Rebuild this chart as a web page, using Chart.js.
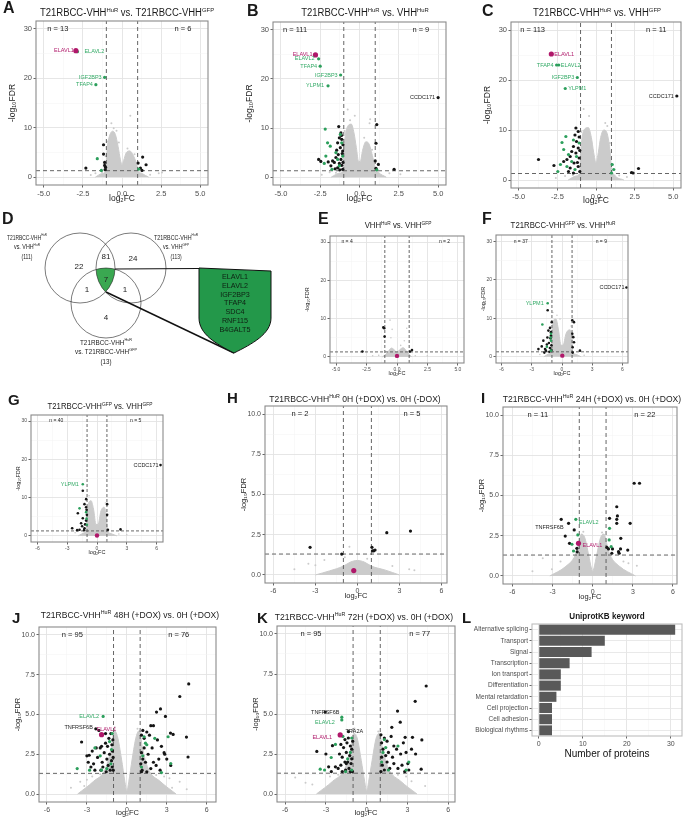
<!DOCTYPE html>
<html>
<head>
<meta charset="utf-8">
<script src="https://cdn.jsdelivr.net/npm/chart.js@4.4.1/dist/chart.umd.min.js"></script>
<style>
body { margin: 0; background: #fff; font-family: "Liberation Sans", Arial, sans-serif; }
#page { position: relative; width: 685px; height: 817px; overflow: hidden; }
canvas { position: absolute; }
.txt { position: absolute; white-space: nowrap; line-height: 1; color: #1a1a1a; }
.ttl { transform: translate(-50%, -50%) scaleX(0.95); }
.ttl sup { font-size: 62%; vertical-align: 0.6em; line-height: 0; }
.let { font-weight: bold; }
</style>
</head>
<body>
<div id="page"></div>
<script>
// ---- shared cut-offs and ticks
const fcCut = [-1, 1];
const fdrCut = 1.3;
const ticksFC5 = [-5, -2.5, 0, 2.5, 5];
const ticksFC6 = [-6, -3, 0, 3, 6];
const ticksFDR30 = [0, 10, 20, 30];
const ticksFDR10 = [0, 2.5, 5, 7.5, 10];

// ---- A: T21RBCC-VHH HuR vs T21RBCC-VHH GFP  (cloud = upper edge of the grey non-significant proteins)
const aCloud = [[-1.7,0],[-1.3,0.7],[-1.05,1.3],[-1.0,3.5],[-0.92,6.5],[-0.78,8.5],[-0.6,9.3],[-0.42,8.6],[-0.25,6.2],[-0.1,3.5],[0,2.5],[0.1,3.3],[0.28,5],[0.5,5.3],[0.72,4.4],[0.92,2.8],[1.05,1.3],[1.3,0.7],[1.7,0]];
const aGray = [[0.53,12.4],[-0.68,10.9],[-0.53,9.9],[-0.35,9.4],[2.35,0.8],[2.56,0.95],[-1.28,1.0],[-1.7,0.8],[1.8,0.5],[-2.0,0.4],[-0.9,7.2],[-0.2,7.0],[0.35,5.8],[0.8,4.6],[-1.05,4.2]];
const aBlack = [[-1.18,6.55],[-1.18,4.66],[-1.11,2.97],[-1.11,2.36],[-2.31,1.82],[-1.05,2.0],[-1.08,1.5],[1.32,4.05],[1.54,2.5],[1.03,2.84],[1.18,1.82],[1.28,1.35]];
const aGreen = [[-2.85,25.4],[-1.11,20.2],[-1.67,18.7],[-1.58,3.72],[-1.32,1.35],[1.07,1.62]];
const aMag = [[-2.95,25.6]];
const aGenes = [['ELAVL1',-2.95,25.6,'m'],['ELAVL2',-2.85,25.4,'g'],['IGF2BP3',-1.11,20.2,'g'],['TFAP4',-1.67,18.7,'g']];
const aN = ['n = 13', 'n = 6'];

// ---- B: T21RBCC-VHH HuR vs VHH HuR
const bCloud = [[-1.8,0],[-1.3,0.8],[-1.05,1.5],[-1.0,5],[-0.9,8.5],[-0.72,10.5],[-0.52,10.8],[-0.35,9],[-0.2,6],[-0.06,3.2],[0.05,3.2],[0.2,5.5],[0.4,7.2],[0.6,6.8],[0.85,4],[1.0,2],[1.2,1.0],[1.7,0]];
const bGray = [[-0.75,13.8],[-0.3,12.5],[0.64,11],[0.68,11.8],[-0.6,11.6],[-1.9,1.0],[1.9,0.8],[-2.4,0.5],[2.6,0.6],[-0.95,9.4],[0.3,8.0],[0.8,5.6],[-1.5,0.9]];
const bBlack = [[5.0,16.2],[-1.32,10.3],[-1.18,9.0],[-1.28,8.0],[-1.13,7.7],[-1.39,7.0],[-1.22,6.0],[-1.07,5.3],[-1.35,4.6],[-1.5,4.0],[-1.18,3.6],[-1.6,3.0],[-1.82,2.3],[-1.39,1.9],[-1.07,1.6],[-1.71,3.3],[-1.99,3.1],[-1.28,2.8],[-1.13,2.4],[-2.46,3.2],[-2.6,3.6],[-1.05,6.6],[-1.1,4.8],[-1.45,5.5],[-1.25,1.5],[-1.55,1.7],[-1.05,3.0],[-1.15,8.5],[1.1,10.7],[1.05,6.9],[1.0,3.3],[1.2,2.6],[2.2,1.6],[1.05,1.8]];
const bGreen = [[-2.6,24.1],[-2.5,22.6],[-1.2,20.8],[-2.0,18.6],[-2.18,9.8],[-2.03,7.0],[-1.86,6.3],[-2.14,4.3],[-2.24,2.8],[-1.75,1.6],[-1.5,5.0],[-1.39,3.6],[-1.28,2.3],[-1.13,7.0],[-1.07,4.3],[-1.22,8.7],[1.1,1.5]];
const bMag = [[-2.8,24.9]];
const bGenes = [['ELAVL1',-2.8,24.9,'m'],['ELAVL2',-2.6,24.1,'g'],['TFAP4',-2.5,22.6,'g'],['IGF2BP3',-1.2,20.8,'g'],['YLPM1',-2.0,18.6,'g'],['CCDC171',5.0,16.2,'k']];
const bN = ['n = 111', 'n = 9'];

// ---- C: T21RBCC-VHH HuR vs VHH GFP
const cCloud = [[-1.8,0],[-1.3,0.8],[-1.05,1.5],[-1.0,5],[-0.9,8.5],[-0.7,10.3],[-0.5,10.5],[-0.3,8.5],[-0.15,5.5],[0,3.5],[0.15,5.5],[0.3,8.5],[0.5,10],[0.7,9.5],[0.9,6],[1.0,2.5],[1.2,1.0],[1.8,0]];
const cGray = [[-0.8,14.2],[-0.45,12.8],[0.73,10.8],[0.6,11.4],[-2.0,0.8],[2.0,0.6],[-2.6,0.4],[-0.95,9.6],[0.9,7.4],[-1.5,1.0],[1.5,0.9]];
const cBlack = [[5.23,16.8],[-1.3,10.4],[-1.15,9.7],[-1.36,9.0],[-1.09,8.6],[-1.26,7.7],[-1.46,6.7],[-1.15,6.4],[-1.57,5.7],[-1.3,5.4],[-1.67,4.7],[-1.09,4.4],[-1.88,4.1],[-1.42,3.4],[-2.09,3.7],[-2.72,2.9],[-1.67,2.4],[-1.15,2.7],[-1.05,1.7],[-1.46,1.4],[-3.72,4.1],[-1.78,1.7],[-1.05,5.9],[-1.2,3.5],[2.3,1.5],[2.4,1.4],[2.75,2.3]];
const cGreen = [[-2.41,23.0],[-2.55,23.0],[-1.21,20.5],[-1.99,18.3],[-1.95,8.7],[-2.2,7.5],[-1.46,8.0],[-2.09,6.1],[-1.78,5.1],[-2.3,3.1],[-2.47,1.7],[-1.57,3.7],[-1.88,2.7],[-1.36,2.1],[-1.09,7.4],[-1.26,4.7],[1.05,3.1],[1.15,2.1],[1.0,1.4]];
const cMag = [[-2.89,25.2]];
const cGenes = [['ELAVL1',-2.89,25.2,'m'],['ELAVL2',-2.41,23.0,'g'],['TFAP4',-2.55,23.0,'g'],['IGF2BP3',-1.21,20.5,'g'],['YLPM1',-1.99,18.3,'g'],['CCDC171',5.23,16.8,'k']];
const cN = ['n = 113', 'n = 11'];

// ---- E: VHH HuR vs VHH GFP
const eCloud = [[-1.2,0],[-0.8,1.0],[-0.45,2.3],[-0.15,1.6],[0,1.2],[0.2,1.8],[0.5,2.4],[0.85,1.2],[1.2,0]];
const eGray = [[-0.57,9.6],[-0.4,7.2],[0.8,7.5],[-0.5,5.0],[0.6,4.2],[2.49,0.26],[-2.0,0.3],[1.5,0.3],[-1.5,0.4],[0.3,3.0]];
const eBlack = [[-1.12,7.7],[-1.05,7.5],[-1.02,5.3],[-2.84,1.4],[1.07,1.4],[1.23,1.8]];
const eGreen = [];
const eMag = [[0,0.26]];
const eGenes = [];
const eN = ['n = 4', 'n = 2'];

// ---- F: T21RBCC-VHH GFP vs VHH HuR
const fCloud = [[-1.8,0],[-1.3,0.8],[-1.1,1.5],[-1.0,6],[-0.85,9.5],[-0.6,9.8],[-0.35,7],[-0.1,3],[0.1,3],[0.4,6],[0.75,7],[1.0,5],[1.05,1.5],[1.3,0.7],[1.9,0]];
const fGray = [[-0.9,11.5],[-0.5,10.8],[0.9,8],[-2.2,0.6],[2.2,0.4],[-0.2,9.8]];
const fBlack = [[6.4,18.0],[-1.42,12.1],[-1.02,9.0],[-1.35,6.8],[-1.19,7.5],[-1.85,4.2],[-2.01,2.7],[-2.34,2.0],[-1.68,2.0],[-1.1,5.5],[-1.15,4.8],[-1.3,3.6],[-1.05,3.0],[-1.5,3.2],[-1.2,2.3],[-1.6,1.6],[-1.05,1.8],[-1.25,1.3],[-1.1,6.4],[-1.45,5.0],[-1.75,1.1],[1.02,9.5],[1.19,9.0],[1.02,6.0],[1.12,5.1],[1.19,3.8],[1.06,2.5],[1.78,1.6],[1.06,1.1]];
const fGreen = [[-1.42,13.9],[-1.95,8.4],[-1.09,6.0],[-1.09,4.2],[-1.09,1.6],[-1.5,2.6],[-1.12,5.0]];
const fMag = [[0.03,0.3]];
const fGenes = [['YLPM1',-1.42,13.9,'g'],['CCDC171',6.4,18.0,'k']];
const fN = ['n = 37', 'n = 9'];

// ---- G: T21RBCC-VHH GFP vs VHH GFP
const gCloud = [[-1.9,0],[-1.3,0.8],[-1.1,1.5],[-1.0,5.5],[-0.85,8.5],[-0.6,9.2],[-0.35,7],[-0.1,3],[0.1,3],[0.4,6.5],[0.7,7.5],[0.95,5],[1.05,1.5],[1.3,0.7],[2.0,0]];
const gGray = [[-0.8,10.5],[0.85,8.6],[-2.2,0.8],[2.2,0.5],[3.0,0.3]];
const gBlack = [[6.4,18.5],[-1.09,9.6],[-1.43,11.8],[-1.26,8.3],[-1.93,5.9],[-1.43,4.6],[-1.02,5.5],[-1.6,3.3],[-2.5,2.0],[-1.76,1.6],[-1.26,2.0],[-1.1,4.0],[-1.2,3.0],[-1.05,6.8],[-1.3,1.5],[-2.0,1.5],[-1.5,2.5],[-1.1,7.5],[1.02,8.3],[1.02,5.5],[2.37,1.7],[1.1,1.6]];
const gGreen = [[-1.43,13.5],[-1.76,7.2],[-1.02,2.9],[-1.05,4.5],[-1.1,6.2]];
const gMag = [[0,0.1]];
const gGenes = [['YLPM1',-1.43,13.5,'g'],['CCDC171',6.4,18.5,'k']];
const gN = ['n = 40', 'n = 5'];

// ---- H: 0H (+DOX) vs 0H (-DOX)
const hCloud = [[-3.0,0],[-2.0,0.25],[-1.0,0.55],[-0.5,0.8],[0,0.9],[0.5,0.8],[1.0,0.55],[2.0,0.3],[3.0,0]];
const hGray = [[-0.57,1.76],[-3.5,0.7],[-4.5,0.35],[3.7,0.35],[4.07,0.3],[-2.36,0.93],[-0.9,1.1],[0.7,1.0],[-3.0,0.6],[2.5,0.55]];
const hBlack = [[-3.38,1.72],[-1.12,1.3],[1.04,1.72],[1.08,1.5],[1.17,1.5],[1.26,1.55],[2.1,2.63],[3.79,2.73]];
const hGreen = [];
const hMag = [[-0.26,0.27]];
const hGenes = [];
const hN = ['n = 2', 'n = 5'];

// ---- I: 24H (+DOX) vs 0H (+DOX)
const iCloud = [[-3.2,0],[-2.0,0.6],[-1.3,1.3],[-1.05,2.0],[-0.85,2.6],[-0.6,2.4],[-0.3,1.3],[-0.1,0.5],[0,0.3],[0.1,0.5],[0.3,1.3],[0.6,2.4],[0.85,2.6],[1.05,2.0],[1.3,1.3],[2.0,0.6],[3.2,0]];
const iGray = [[-3.73,1.1],[-3.05,0.41],[2.67,0.79],[3.3,0.64],[-4.5,0.3],[-0.7,2.75],[0.7,2.7],[-2.4,0.9],[2.3,0.9]];
const iBlack = [[-1.8,3.27],[-2.35,3.52],[-2.05,2.48],[-1.38,2.86],[-1.73,2.03],[-1.18,1.72],[-1.16,1.5],[3.1,5.76],[3.5,5.76],[1.8,4.3],[1.85,3.73],[1.8,3.52],[1.8,3.27],[1.26,3.58],[2.8,3.27],[2.1,2.34],[1.06,1.78],[1.18,1.68],[1.48,1.68],[1.93,1.51],[2.08,1.68],[1.98,1.41],[1.43,1.41],[2.62,1.61]];
const iGreen = [[-1.26,3.52],[-1.55,1.97],[-1.43,1.55],[-1.11,2.55],[1.26,2.96],[1.23,2.24],[1.38,1.82]];
const iMag = [[-1.06,2.03]];
const iGenes = [['TNFRSF6B',-1.8,3.27,'k'],['ELAVL2',-1.26,3.52,'g'],['ELAVL1',-1.06,2.03,'m']];
const iN = ['n = 11', 'n = 22'];

// ---- J: 48H (+DOX) vs 0H (+DOX)
const jCloud = [[-3.7,0],[-2.5,0.8],[-1.6,1.6],[-1.15,3.0],[-0.95,4.0],[-0.7,3.6],[-0.4,2.2],[-0.15,0.8],[0,0.2],[0.15,0.8],[0.4,2.2],[0.7,3.6],[0.95,4.0],[1.15,3.0],[1.6,1.6],[2.5,0.8],[3.7,0]];
const jGray = [[-3.5,0.77],[3.97,0.77],[-3.0,0.9],[-4.2,0.4],[4.5,0.3],[3.2,1.0],[-0.9,4.2],[0.8,4.1],[-2.6,1.1],[2.8,1.1],[-2.0,1.25],[2.2,1.2],[-3.2,0.5],[3.4,0.4]];
const jBlack = [[-2.33,4.1],[-3.4,3.27],[-2.83,2.44],[-2.9,2.0],[-2.7,1.7],[-2.5,1.9],[-2.3,2.9],[-2.2,2.3],[-2.0,2.9],[-1.95,1.5],[-1.85,2.0],[-1.8,1.7],[-1.7,2.6],[-1.6,3.2],[-1.55,1.4],[-1.5,2.2],[-1.45,3.0],[-1.4,1.8],[-1.35,3.5],[-1.3,2.5],[-1.25,1.5],[-1.2,3.8],[-1.15,2.1],[-1.12,3.1],[-1.1,1.7],[-1.08,2.7],[-1.05,3.4],[-1.03,2.3],[-1.02,1.5],[-1.6,3.8],[-2.1,4.0],[-2.6,2.7],[-3.0,2.4],[-2.4,1.5],[-1.9,3.0],
  [4.65,6.92],[3.98,6.13],[2.53,5.35],[2.23,5.15],[2.9,4.88],[4.48,3.58],[4.6,2.33],[3.28,3.83],[3.48,3.75],[1.2,4.0],[1.1,3.7],[1.3,3.5],[1.5,3.9],[1.8,4.3],[2.0,4.3],[1.7,3.7],[2.3,3.4],[2.6,3.0],[1.3,2.9],[1.1,2.6],[1.2,2.2],[1.4,2.0],[1.05,1.9],[1.15,1.5],[1.5,1.4],[1.8,1.6],[2.0,2.0],[2.2,1.8],[2.5,1.5],[2.8,2.6],[2.85,2.5],[3.0,2.2],[1.6,2.5],[1.9,2.9],[3.3,1.8],[1.1,1.4],[2.4,2.2]];
const jGreen = [[-1.78,4.88],[-3.73,1.6],[-2.4,2.9],[-2.0,2.4],[-1.9,1.5],[-1.3,3.3],[-1.15,2.8],[-1.1,3.8],[-1.2,1.9],[-1.5,1.6],[-2.8,1.5],[3.3,1.92],[2.6,1.35],[1.3,3.6],[1.4,3.2],[2.1,3.5],[1.2,2.4],[1.5,3.1],[1.1,1.7],[3.1,3.6]];
const jMag = [[-1.9,3.73]];
const jGenes = [['ELAVL2',-1.78,4.88,'g'],['TNFRSF6B',-2.33,4.1,'k'],['ELAVL1',-1.9,3.73,'m']];
const jN = ['n = 95', 'n = 76'];

// ---- K: 72H (+DOX) vs 0H (+DOX)
const kCloud = [[-3.7,0],[-2.5,0.8],[-1.6,1.6],[-1.15,2.9],[-0.95,3.8],[-0.7,3.5],[-0.4,2.1],[-0.15,0.8],[0,0.2],[0.15,0.8],[0.4,2.1],[0.7,3.5],[0.95,3.8],[1.15,2.9],[1.6,1.6],[2.5,0.8],[3.7,0]];
const kGray = [[-5.26,1.03],[3.3,0.8],[4.3,0.5],[-4.0,0.6],[-0.9,4.1],[0.85,3.9],[-4.5,0.7],[-2.7,1.1],[2.9,1.1],[-2.1,1.2],[2.3,1.2]];
const kBlack = [[-3.05,5.12],[-1.34,3.9],[-3.67,2.66],[-3.0,2.5],[-2.52,3.02],[-2.6,1.4],[-2.3,1.7],[-2.1,1.6],[-1.9,1.8],[-1.8,2.3],[-1.7,2.9],[-1.6,3.4],[-1.55,1.5],[-1.5,2.6],[-1.45,3.2],[-1.4,2.0],[-1.35,3.5],[-1.3,1.6],[-1.25,2.4],[-1.2,3.0],[-1.15,1.9],[-1.1,2.8],[-1.05,1.4],[-1.03,3.3],[-1.6,2.0],[-1.8,1.4],[-2.0,2.5],[-1.2,1.4],[-1.9,3.1],[-2.8,1.7],[-1.1,2.2],[-1.5,1.9],
  [4.38,6.75],[3.57,5.79],[2.27,5.18],[2.47,4.49],[1.85,4.17],[3.37,3.54],[4.06,3.38],[2.83,3.54],[4.01,1.55],[3.03,1.9],[1.05,3.7],[1.1,3.2],[1.2,2.8],[1.3,3.5],[1.5,3.3],[1.6,2.6],[1.8,3.6],[2.0,3.0],[2.2,2.8],[2.5,2.5],[2.9,2.6],[3.3,2.8],[1.1,2.3],[1.15,1.8],[1.3,1.5],[1.5,2.0],[1.7,1.6],[2.0,1.9],[2.3,1.6],[2.6,1.8],[2.8,1.4],[3.1,1.5],[1.05,1.4],[1.4,2.4],[1.9,2.3],[2.7,3.2],[3.6,2.5]];
const kGreen = [[-1.83,4.8],[-1.83,4.63],[-3.42,1.55],[-2.61,2.28],[-2.3,3.1],[-1.75,3.6],[-1.4,2.2],[-1.1,3.5],[-1.1,1.5],[-1.55,1.4],[-1.2,2.6],[-3.1,1.5],[1.3,3.4],[1.4,2.9],[1.1,2.0],[1.6,1.5],[2.3,3.0],[3.1,2.0],[1.2,2.6],[2.9,1.5]];
const kMag = [[-1.95,3.69]];
const kGenes = [['TNFRSF6B',-3.05,5.12,'k'],['ELAVL2',-1.83,4.63,'g'],['ELAVL1',-1.95,3.69,'m'],['TRA2A',-1.34,3.9,'k']];
const kN = ['n = 95', 'n = 77'];

// ---- L: UniprotKB keywords
const lKeywords = ['Alternative splicing','Transport','Signal','Transcription','Ion transport','Differentiation','Mental retardation','Cell projection','Cell adhesion','Biological rhythms'];
const lCounts = [31, 15, 12, 7, 5, 5, 4, 3, 3, 3];
const lTicks = [0, 10, 20, 30];

// ---- D: Venn
const vennSets = [['T21RBCC-VHH', 'HuR', 'vs. VHH', 'HuR', '(111)'], ['T21RBCC-VHH', 'HuR', 'vs. VHH', 'GFP', '(113)'], ['T21RBCC-VHH', 'HuR', 'vs. T21RBCC-VHH', 'GFP', '(13)']];
const vennCounts = [22, 81, 24, 7, 1, 1, 4];
const coreGenes = ['ELAVL1', 'ELAVL2', 'IGF2BP3', 'TFAP4', 'SDC4', 'RNF115', 'B4GALT5'];


const page = document.getElementById('page');
const GRAY = '#cbcbcb', BLACK = '#151515', GREEN = '#2c9f5c', MAG = '#b0186a';
const labelColor = { m: '#b0186a', g: '#33aa66', k: '#222' };
Chart.defaults.font.family = '"Liberation Sans", Arial, sans-serif';
Chart.defaults.color = '#4d4d4d';

function mkCanvas(x, y, w, h) {
    const cv = document.createElement('canvas');
    cv.width = w; cv.height = h;
    cv.style.cssText = 'left:' + x + 'px;top:' + y + 'px;width:' + w + 'px;height:' + h + 'px';
    page.appendChild(cv);
    return cv;
}

function addText(html, x, y, size, cls) {
    const d = document.createElement('div');
    d.className = 'txt ' + (cls || '');
    d.style.left = x + 'px';
    d.style.top = y + 'px';
    d.style.fontSize = size + 'px';
    d.innerHTML = html;
    page.appendChild(d);
}

function withMinors(major, range) {
    const all = major.slice();
    const step = major[1] - major[0];
    for (let i = 0; i < major.length - 1; i++) all.push((major[i] + major[i + 1]) / 2);
    if (major[0] - step / 2 >= range[0]) all.push(major[0] - step / 2);
    if (major[major.length - 1] + step / 2 <= range[1]) all.push(major[major.length - 1] + step / 2);
    return all.sort((a, b) => a - b);
}

function linAxis(major, range, title, fmt, fixSize, isX, fs) {
    const all = withMinors(major, range);
    const isMaj = ctx => ctx.tick && major.includes(ctx.tick.value);
    return {
        type: 'linear', min: range[0], max: range[1],
        afterBuildTicks: s => { s.ticks = all.map(v => ({ value: v })); },
        afterFit: s => { if (isX) s.height = fixSize; else s.width = fixSize; },
        ticks: { autoSkip: false, maxRotation: 0, padding: 1.5, color: '#4d4d4d', font: { size: fs.tick },
                 callback: v => major.includes(v) ? fmt(v) : '' },
        grid: { color: ctx => isMaj(ctx) ? '#e3e3e3' : '#f2f2f2', lineWidth: ctx => isMaj(ctx) ? 0.9 : 0.5,
                tickLength: 2.5, tickColor: ctx => isMaj(ctx) ? '#555' : 'rgba(0,0,0,0)' },
        border: { display: false },
        title: { display: !!title, text: title, color: '#222', font: { size: fs.title }, padding: { top: 0, bottom: 0 } }
    };
}

// frame + annotations drawn on top of the datasets
const panelPlugin = {
    id: 'panel',
    afterDatasetsDraw(chart, args, o) {
        const { ctx, chartArea: a, scales } = chart;
        ctx.save();
        ctx.strokeStyle = o.frame || '#8a8a8a';
        ctx.lineWidth = 1.1;
        ctx.strokeRect(a.left, a.top, a.right - a.left, a.bottom - a.top);
        const x = scales.x, y = scales.y;
        if (o.n) {
            ctx.fillStyle = '#222';
            ctx.font = o.nSize + 'px "Liberation Sans", Arial';
            ctx.textAlign = 'center'; ctx.textBaseline = 'middle';
            ctx.fillText(o.n[0], x.getPixelForValue(-4.1), y.getPixelForValue(o.nY));
            ctx.fillText(o.n[1], x.getPixelForValue(3.9), y.getPixelForValue(o.nY));
        }
        (o.genes || []).forEach((g, i) => {
            const p = o.place[i];
            ctx.fillStyle = labelColor[g[3]];
            ctx.font = o.geneSize + 'px "Liberation Sans", Arial';
            ctx.textAlign = p[2]; ctx.textBaseline = 'middle';
            ctx.fillText(g[0], x.getPixelForValue(g[1]) + p[0], y.getPixelForValue(g[2]) + p[1]);
        });
        ctx.restore();
    }
};

function makeVolcano(c) {
    const [l, t, r, b] = c.box;
    const pt = 8, pr = c.pr == null ? 4 : c.pr;
    const W = r - l + c.yw + pr, H = b - t + c.xh + pt;
    const cv = mkCanvas(l - c.yw, t - pt, W, H);
    const pts = arr => arr.map(p => ({ x: p[0], y: p[1] }));
    const dash = { type: 'line', showLine: true, borderColor: '#555', borderWidth: 0.9, borderDash: c.dash, pointRadius: 0, fill: false, order: 4 };
    const dot = (arr, col, rad, ord) => ({ data: pts(arr), pointBackgroundColor: col, backgroundColor: col, pointBorderWidth: 0, borderWidth: 0, pointRadius: rad, order: ord });
    const fmtX = c.xt === ticksFC5 ? (v => v.toFixed(1)) : (v => String(v));
    const fmtY = c.yt === ticksFDR10 ? (v => v.toFixed(1)) : (v => String(v));
    new Chart(cv, {
        type: 'scatter',
        data: {
            datasets: [
                { type: 'line', data: pts(c.cloud), fill: 'origin', showLine: true, backgroundColor: GRAY, borderColor: GRAY, borderWidth: 1,
                  pointRadius: 0, cubicInterpolationMode: 'monotone', order: 6 },
                dot(c.gray, GRAY, c.rad[1], 5),
                Object.assign({ data: [{ x: fcCut[0], y: c.yr[0] }, { x: fcCut[0], y: c.yr[1] }] }, dash),
                Object.assign({ data: [{ x: fcCut[1], y: c.yr[0] }, { x: fcCut[1], y: c.yr[1] }] }, dash),
                Object.assign({ data: [{ x: c.xr[0], y: fdrCut }, { x: c.xr[1], y: fdrCut }] }, dash),
                dot(c.black, BLACK, c.rad[0], 3),
                dot(c.green, GREEN, c.rad[0], 2),
                dot(c.mag, MAG, c.rad[2], 1)
            ]
        },
        options: {
            responsive: false, animation: false, events: [],
            layout: { padding: { top: pt, right: pr, left: 0, bottom: 0 } },
            plugins: {
                legend: { display: false }, tooltip: { enabled: false },
                panel: { n: c.n, nY: c.yt[c.yt.length - 1], nSize: c.fs.n, genes: c.genes, place: c.place, geneSize: c.fs.gene }
            },
            scales: {
                x: linAxis(c.xt, c.xr, 'log₂FC', fmtX, c.xh, true, c.fs),
                y: linAxis(c.yt, c.yr, '-log₁₀FDR', fmtY, c.yw, false, c.fs)
            }
        },
        plugins: [panelPlugin]
    });
}

const fsBig = { tick: 7.5, title: 8.5, gene: 5.5, n: 7.5 };
const fsSmall = { tick: 5, title: 5.5, gene: 5.5, n: 5 };
const fsMid = { tick: 7, title: 7.5, gene: 5.5, n: 7.5 };
const yr30 = [-1.6, 31.6], yr10 = [-0.5, 10.5];

const panels = [
    { box: [36, 21, 208, 185], xr: [-5.5, 5.5], yr: yr30, xt: ticksFC5, yt: ticksFDR30, yw: 28, xh: 19, fs: fsBig, rad: [1.6, 1.0, 2.6], dash: [4, 3],
      cloud: aCloud, gray: aGray, black: aBlack, green: aGreen, mag: aMag, genes: aGenes, n: aN,
      place: [[-2, 0, 'right'], [7, 0, 'left'], [-3, 0, 'right'], [-3, 0, 'right']] },
    { box: [273, 22, 446, 185], xr: [-5.5, 5.5], yr: yr30, xt: ticksFC5, yt: ticksFDR30, yw: 28, xh: 19, fs: fsBig, rad: [1.6, 1.0, 2.6], dash: [4, 3],
      cloud: bCloud, gray: bGray, black: bBlack, green: bGreen, mag: bMag, genes: bGenes, n: bN,
      place: [[-3, 0, 'right'], [-4, 0, 'right'], [-3, 0, 'right'], [-3, 0, 'right'], [-4, 0, 'right'], [-3, 0, 'right']] },
    { box: [511, 22, 684, 188], xr: [-5.5, 5.5], yr: yr30, xt: ticksFC5, yt: ticksFDR30, yw: 28, xh: 18, pr: 1, fs: fsBig, rad: [1.6, 1.0, 2.6], dash: [4, 3],
      cloud: cCloud, gray: cGray, black: cBlack, green: cGreen, mag: cMag, genes: cGenes, n: cN,
      place: [[3, 0, 'left'], [2, 0, 'left'], [-3, 0, 'right'], [-3, 0, 'right'], [3, 0, 'left'], [-3, 0, 'right']] },
    { box: [330, 236, 465, 363], xr: [-5.5, 5.5], yr: yr30, xt: ticksFC5, yt: ticksFDR30, yw: 26, xh: 14, pr: 3, fs: fsSmall, rad: [1.3, 0.8, 2.2], dash: [3, 2],
      cloud: eCloud, gray: eGray, black: eBlack, green: eGreen, mag: eMag, genes: eGenes, n: eN, place: [] },
    { box: [496, 235, 628, 363], xr: [-6.55, 6.55], yr: yr30, xt: ticksFC6, yt: ticksFDR30, yw: 16, xh: 14, fs: fsSmall, rad: [1.3, 0.8, 2.2], dash: [3, 2],
      cloud: fCloud, gray: fGray, black: fBlack, green: fGreen, mag: fMag, genes: fGenes, n: fN,
      place: [[-4, 0, 'right'], [-2, 0, 'right']] },
    { box: [31, 415, 163, 542], xr: [-6.65, 6.65], yr: yr30, xt: ticksFC6, yt: ticksFDR30, yw: 16, xh: 14, fs: fsSmall, rad: [1.3, 0.8, 2.2], dash: [3, 2],
      cloud: gCloud, gray: gGray, black: gBlack, green: gGreen, mag: gMag, genes: gGenes, n: gN,
      place: [[-4, 0, 'right'], [-2, 0, 'right']] },
    { box: [265, 406, 447, 583], xr: [-6.6, 6.4], yr: yr10, xt: ticksFC6, yt: ticksFDR10, yw: 26, xh: 17, fs: fsMid, rad: [1.6, 1.0, 2.6], dash: [4, 3],
      cloud: hCloud, gray: hGray, black: hBlack, green: hGreen, mag: hMag, genes: hGenes, n: hN, place: [] },
    { box: [503, 407, 677, 584], xr: [-6.7, 6.3], yr: yr10, xt: ticksFC6, yt: ticksFDR10, yw: 26, xh: 17, fs: fsMid, rad: [1.6, 1.0, 2.6], dash: [4, 3],
      cloud: iCloud, gray: iGray, black: iBlack, green: iGreen, mag: iMag, genes: iGenes, n: iN,
      place: [[-5, 4, 'right'], [3, 3, 'left'], [4, 2, 'left']] },
    { box: [39, 627, 216, 802], xr: [-6.6, 6.7], yr: yr10, xt: ticksFC6, yt: ticksFDR10, yw: 26, xh: 15, fs: fsMid, rad: [1.6, 1.0, 2.6], dash: [4, 3],
      cloud: jCloud, gray: jGray, black: jBlack, green: jGreen, mag: jMag, genes: jGenes, n: jN,
      place: [[-4, 0, 'right'], [-3, -1, 'right'], [-5, -5, 'left']] },
    { box: [277, 626, 455, 802], xr: [-6.6, 6.5], yr: yr10, xt: ticksFC6, yt: ticksFDR10, yw: 26, xh: 15, fs: fsMid, rad: [1.6, 1.0, 2.6], dash: [4, 3],
      cloud: kCloud, gray: kGray, black: kBlack, green: kGreen, mag: kMag, genes: kGenes, n: kN,
      place: [[0, 0, 'center'], [-7, 3, 'right'], [-8, 3, 'right'], [-3, 0, 'left']] }
];
panels.forEach(makeVolcano);

// ---- L bar chart
(function () {
    const fs = { tick: 7, title: 10 };
    const cv = mkCanvas(455, 616, 230, 144);
    const xAx = linAxis(lTicks, [-1.55, 32.55], 'Number of proteins', v => String(v), 24, true, fs);
    xAx.title.color = '#111';
    new Chart(cv, {
        type: 'bar',
        data: { labels: lKeywords, datasets: [{ data: lCounts, backgroundColor: '#595959', barPercentage: 0.9, categoryPercentage: 1 }] },
        options: {
            indexAxis: 'y', responsive: false, animation: false, events: [],
            layout: { padding: { top: 8, right: 3, left: 0, bottom: 0 } },
            plugins: { legend: { display: false }, tooltip: { enabled: false }, panel: { frame: '#bdbdbd' } },
            scales: {
                x: xAx,
                y: { type: 'category', afterFit: s => { s.width = 77; },
                     ticks: { autoSkip: false, font: { size: 6.5 }, color: '#4d4d4d', padding: 1.5 },
                     grid: { offset: false, color: '#e6e6e6', lineWidth: 0.9, tickLength: 2.5, tickColor: '#555' },
                     border: { display: false } }
            }
        },
        plugins: [panelPlugin]
    });
})();

// ---- D Venn diagram (svg)
(function () {
    const NS = 'http://www.w3.org/2000/svg';
    const svg = document.createElementNS(NS, 'svg');
    svg.setAttribute('width', 685); svg.setAttribute('height', 817);
    svg.style.cssText = 'position:absolute;left:0;top:0';
    const circ = [[80, 268, 35], [131, 268, 35], [106, 303, 35]];
    let s = '<defs><clipPath id="c1"><circle cx="80" cy="268" r="35"/></clipPath><clipPath id="c2"><circle cx="131" cy="268" r="35"/></clipPath></defs>';
    s += '<g clip-path="url(#c1)"><g clip-path="url(#c2)"><circle cx="106" cy="303" r="35" fill="#3aa851"/></g></g>';
    circ.forEach(c => { s += '<circle cx="' + c[0] + '" cy="' + c[1] + '" r="' + c[2] + '" fill="none" stroke="#222" stroke-width="0.6"/>'; });
    s += '<line x1="115" y1="269" x2="199" y2="268.5" stroke="#111" stroke-width="1.1"/>';
    s += '<line x1="106" y1="292" x2="234" y2="353" stroke="#111" stroke-width="1.4"/>';
    s += '<path d="M199,268 L271,271 L271,318 C271,334 252,344 234,353 C216,344 199,334 199,318 Z" fill="#23984a" stroke="#111" stroke-width="1"/>';
    const font = 'font-family="Liberation Sans, Arial, sans-serif"';
    const numPos = [[79, 267], [106, 257], [133, 259], [106, 280], [87, 290], [125, 290], [106, 318]];
    vennCounts.forEach((n, i) => {
        s += '<text x="' + numPos[i][0] + '" y="' + numPos[i][1] + '" ' + font + ' font-size="8" text-anchor="middle" dominant-baseline="middle" fill="#222">' + n + '</text>';
    });
    // centre x, first line y, widths of the three lines
    const setPos = [[27, 238, 40, 26, 11], [176, 238, 44, 26, 11], [106, 343, 52, 62, 11]];
    const line = (x, y, w, body) => '<text x="' + x + '" y="' + y + '" ' + font + ' font-size="7" text-anchor="middle" dominant-baseline="middle" fill="#222" textLength="' + w + '" lengthAdjust="spacingAndGlyphs">' + body + '</text>';
    const sup = t => '<tspan font-size="4.2" dy="-2.6">' + t + '</tspan>';
    vennSets.forEach((st, i) => {
        const [x, y, w1, w2, w3] = setPos[i];
        s += line(x, y, w1, st[0] + sup(st[1]));
        s += line(x, y + 9.5, w2, st[2] + sup(st[3]));
        s += line(x, y + 19, w3, st[4]);
    });
    coreGenes.forEach((g, i) => {
        s += '<text x="235" y="' + (277 + i * 8.8) + '" ' + font + ' font-size="7.2" text-anchor="middle" dominant-baseline="middle" fill="#0e1f12">' + g + '</text>';
    });
    svg.innerHTML = s;
    page.appendChild(svg);
})();

// ---- titles and panel letters
const S = t => '<sup>' + t + '</sup>';
addText('T21RBCC-VHH' + S('HuR') + ' vs. T21RBCC-VHH' + S('GFP'), 127, 13, 10, 'ttl');
addText('T21RBCC-VHH' + S('HuR') + ' vs. VHH' + S('HuR'), 365, 13, 10, 'ttl');
addText('T21RBCC-VHH' + S('HuR') + ' vs. VHH' + S('GFP'), 597, 13, 10, 'ttl');
addText('VHH' + S('HuR') + ' vs. VHH' + S('GFP'), 398, 226, 8.2, 'ttl');
addText('T21RBCC-VHH' + S('GFP') + ' vs. VHH' + S('HuR'), 563, 226, 8.2, 'ttl');
addText('T21RBCC-VHH' + S('GFP') + ' vs. VHH' + S('GFP'), 100, 407, 8.2, 'ttl');
addText('T21RBCC-VHH' + S('HuR') + ' 0H (+DOX) vs. 0H (-DOX)', 355, 399, 9, 'ttl');
addText('T21RBCC-VHH' + S('HuR') + ' 24H (+DOX) vs. 0H (+DOX)', 592, 399, 9, 'ttl');
addText('T21RBCC-VHH' + S('HuR') + ' 48H (+DOX) vs. 0H (+DOX)', 130, 615, 9, 'ttl');
addText('T21RBCC-VHH' + S('HuR') + ' 72H (+DOX) vs. 0H (+DOX)', 364, 617, 9, 'ttl');
addText('<b>UniprotKB keyword</b>', 607, 616, 8.5, 'ttl');

[['A', 3, 0, 16], ['B', 247, 3, 16], ['C', 482, 3, 16], ['D', 2, 211, 16], ['E', 318, 211, 16], ['F', 482, 211, 16],
 ['G', 8, 392, 15], ['H', 227, 390, 15], ['I', 481, 390, 15], ['J', 12, 610, 15], ['K', 257, 610, 15], ['L', 462, 610, 15]]
    .forEach(p => addText(p[0], p[1], p[2], p[3], 'let'));
</script>
</body>
</html>
